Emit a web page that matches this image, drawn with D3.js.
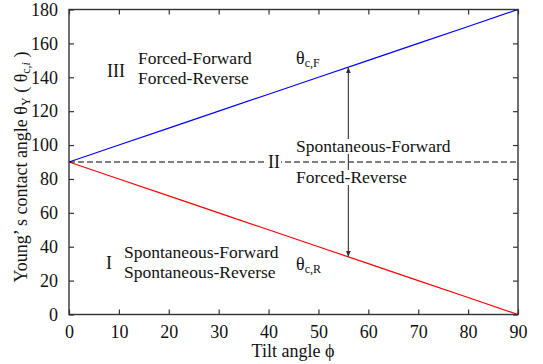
<!DOCTYPE html>
<html><head><meta charset="utf-8">
<script src="https://cdn.jsdelivr.net/npm/d3@7"></script>
<style>
body{margin:0;background:#fff;}
svg text{font-family:'Liberation Serif','Times New Roman',Times,serif !important;fill:#111;}
</style></head>
<body><svg id="c" width="543" height="364" font-family="Liberation Serif"></svg>
<script>
const tiltAngles = [0, 10, 20, 30, 40, 50, 60, 70, 80, 90];
const thetaForward = [90, 100, 110, 120, 130, 140, 150, 160, 170, 180];
const thetaReverse = [90, 80, 70, 60, 50, 40, 30, 20, 10, 0];
const xTicks = [0, 10, 20, 30, 40, 50, 60, 70, 80, 90];
const yTicks = [0, 20, 40, 60, 80, 100, 120, 140, 160, 180];
const boundaryValue = 90;
const arrowPhi = 56;

const svg = d3.select("#c");
const L = 69, R = 518, T = 9.5, B = 314.5;
const x = d3.scaleLinear().domain([0, 90]).range([L, R]);
const y = d3.scaleLinear().domain([0, 180]).range([B, T]);
const FS = 18, SFS = 12;
const FF = "Liberation Serif";

// data lines
const line = d3.line().x((d, i) => x(tiltAngles[i])).y(d => y(d));
svg.append("path").datum(thetaForward).attr("d", line).attr("fill", "none").attr("stroke", "#0000ff").attr("stroke-width", 1.2);
svg.append("path").datum(thetaReverse).attr("d", line).attr("fill", "none").attr("stroke", "#ff0000").attr("stroke-width", 1.2);

// dashed boundary
svg.append("line").attr("x1", x(0)).attr("x2", x(90)).attr("y1", y(boundaryValue)).attr("y2", y(boundaryValue))
  .attr("stroke", "#000").attr("stroke-width", 1.1).attr("stroke-dasharray", "6,3");

// arrows
const defs = svg.append("defs");
defs.append("marker").attr("id", "ah").attr("viewBox", "0 0 10 10").attr("refX", 10).attr("refY", 5)
  .attr("markerWidth", 6).attr("markerHeight", 6).attr("orient", "auto-start-reverse").attr("markerUnits", "userSpaceOnUse")
  .append("path").attr("d", "M0,1 L10,5 L0,9 Z").attr("fill", "#333");
const fAt = d3.scaleLinear().domain(tiltAngles).range(thetaForward)(arrowPhi);
const rAt = d3.scaleLinear().domain(tiltAngles).range(thetaReverse)(arrowPhi);
svg.append("line").attr("x1", x(arrowPhi)).attr("x2", x(arrowPhi)).attr("y1", y(boundaryValue)).attr("y2", y(fAt))
  .attr("stroke", "#444").attr("stroke-width", 1.2).attr("marker-end", "url(#ah)");
svg.append("line").attr("x1", x(arrowPhi)).attr("x2", x(arrowPhi)).attr("y1", y(boundaryValue)).attr("y2", y(rAt))
  .attr("stroke", "#444").attr("stroke-width", 1.2).attr("marker-end", "url(#ah)");

// labels with opaque background
function label(px, py, str, anchor, fs) {
  const g = svg.append("g");
  const t = g.append("text").attr("x", px).attr("y", py).attr("font-size", fs || FS).attr("font-family", FF)
    .attr("text-anchor", anchor || "start").text(str);
  const b = t.node().getBBox();
  g.insert("rect", "text").attr("x", b.x - 1).attr("y", b.y + 3).attr("width", b.width + 2).attr("height", b.height - 5).attr("fill", "#fff");
  return t;
}
label(107, 77, "III");
label(138, 64, "Forced-Forward", null, 17.5);
label(138, 84, "Forced-Reverse", null, 17.5);
label(296, 152, "Spontaneous-Forward", null, 17.5);
label(296, 183, "Forced-Reverse", null, 17.5);
label(274, 168, "II", "middle");
label(106, 269, "I");
label(124, 258, "Spontaneous-Forward", null, 17.5);
label(124, 278, "Spontaneous-Reverse", null, 17.5);

function theta(px, py, sub) {
  const t = svg.append("text").attr("x", px).attr("y", py).attr("font-size", FS).attr("font-family", FF);
  t.append("tspan").text("θ");
  t.append("tspan").attr("font-size", SFS).attr("dy", 3).text(sub);
}
theta(296, 64, "c,F");
theta(296, 270, "c,R");

// frame
svg.append("rect").attr("x", L).attr("y", T).attr("width", R - L).attr("height", B - T)
  .attr("fill", "none").attr("stroke", "#333").attr("stroke-width", 1.4);

// axes
const tl = 5;
const xa = svg.append("g").attr("transform", `translate(0,${B})`)
  .call(d3.axisBottom(x).tickValues(xTicks).tickSize(-tl).tickPadding(11).tickFormat(d3.format("d")));
const xt = svg.append("g").attr("transform", `translate(0,${T})`)
  .call(d3.axisTop(x).tickValues(xTicks).tickSize(-tl).tickFormat(""));
const ya = svg.append("g").attr("transform", `translate(${L},0)`)
  .call(d3.axisLeft(y).tickValues(yTicks).tickSize(-tl).tickPadding(11).tickFormat(d3.format("d")));
const yr = svg.append("g").attr("transform", `translate(${R},0)`)
  .call(d3.axisRight(y).tickValues(yTicks).tickSize(-tl).tickFormat(""));
[xa, xt, ya, yr].forEach(a => {
  a.attr("font-family", FF).attr("font-size", FS);
  a.select(".domain").remove();
  a.selectAll(".tick line").attr("stroke", "#333").attr("stroke-width", 1.2);
  a.selectAll("text").attr("font-size", FS).attr("font-family", FF).attr("fill", "#111");
});

// axis titles
svg.append("text").attr("x", 293).attr("y", 357).attr("text-anchor", "middle").attr("font-size", FS).attr("font-family", FF)
  .text("Tilt angle  ϕ");
const yl = svg.append("text").attr("transform", `translate(27,167) rotate(-90)`).attr("text-anchor", "middle")
  .attr("font-size", FS).attr("font-family", FF);
yl.append("tspan").text("Young’ s contact angle θ");
yl.append("tspan").attr("font-size", SFS).attr("dy", 3).text("Y");
yl.append("tspan").attr("dy", -3).text(" ( θ");
yl.append("tspan").attr("font-size", SFS).attr("dy", 3).text("c,");
yl.append("tspan").attr("font-size", SFS).attr("font-style", "italic").text("i");
yl.append("tspan").attr("dy", -3).text(" )");
</script></body></html>
